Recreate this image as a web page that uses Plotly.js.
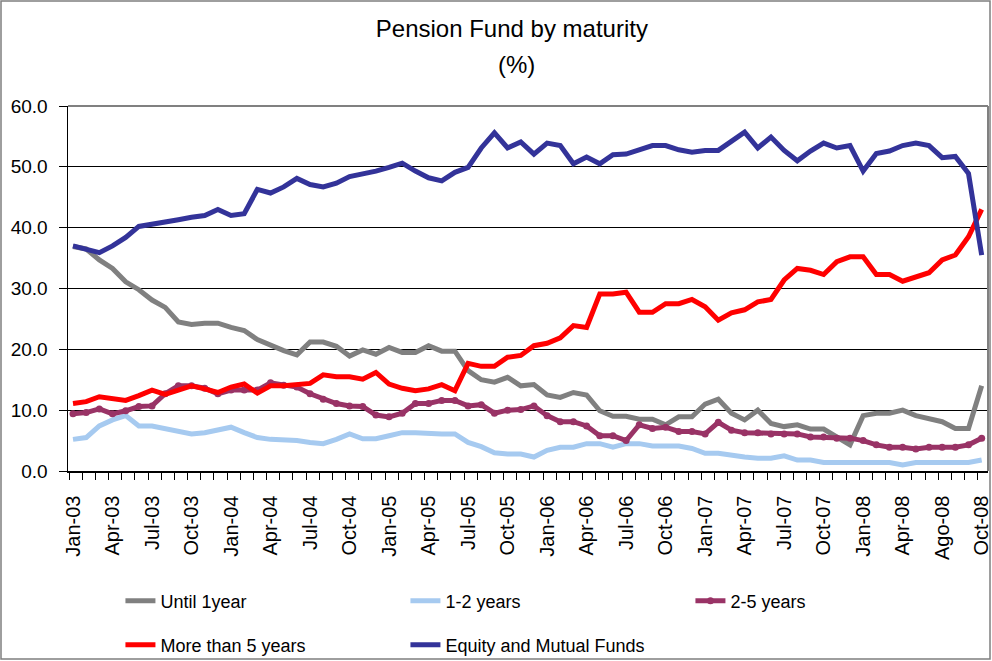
<!DOCTYPE html>
<html>
<head>
<meta charset="utf-8">
<script src="https://cdn.plot.ly/plotly-3.0.1.min.js"></script>
<style>
html, body { margin: 0; padding: 0; background: #ffffff; }
#chart { width: 992px; height: 661px; }
</style>
</head>
<body>
<div id="chart"></div>
<script>
// Tick labels (every third month, as printed on the original chart)
const tickLabels = ['Jan-03','Apr-03','Jul-03','Oct-03','Jan-04','Apr-04','Jul-04','Oct-04',
  'Jan-05','Apr-05','Jul-05','Oct-05','Jan-06','Apr-06','Jul-06','Oct-06',
  'Jan-07','Apr-07','Jul-07','Oct-07','Jan-08','Apr-08','Ago-08','Oct-08'];

// Monthly shares (%), Jan-03 .. Oct-08 (70 months)
const untilOneYear = [36.9,36.5,34.7,33.3,31.1,29.8,28.1,26.9,24.5,24.1,
  24.3,24.3,23.6,23.1,21.6,20.6,19.8,19.1,21.2,21.2,
  20.5,18.9,19.9,19.2,20.3,19.5,19.5,20.6,19.7,19.7,
  16.5,15.0,14.6,15.4,14.0,14.2,12.5,12.1,12.9,12.5,
  9.9,9.0,9.0,8.5,8.5,7.6,8.9,8.9,11.0,11.8,
  9.5,8.4,10.0,7.8,7.3,7.6,6.9,6.9,5.6,4.3,
  9.1,9.5,9.5,10.0,9.1,8.5,8.1,7.0,7.0,14.0];

const oneToTwo = [5.2,5.5,7.4,8.4,9.1,7.4,7.4,7.0,6.7,6.1,
  6.3,6.7,7.2,6.3,5.5,5.2,5.2,5.0,4.7,4.5,
  5.2,6.1,5.3,5.3,5.8,6.3,6.3,6.1,6.1,6.1,
  4.7,4.0,3.0,2.8,2.8,2.3,3.4,3.9,3.9,4.5,
  4.5,3.9,4.5,4.5,4.1,4.1,4.1,3.7,2.9,2.9,
  2.5,2.3,2.1,2.1,2.5,1.8,1.8,1.4,1.4,1.4,
  1.4,1.4,1.4,1.0,1.4,1.4,1.4,1.4,1.4,1.8];

const twoToFive = [9.4,9.6,10.2,9.4,9.9,10.6,10.7,12.7,14.0,14.0,
  13.6,12.7,13.3,13.3,13.3,14.5,14.1,13.8,12.7,11.8,
  11.1,10.7,10.6,9.2,8.9,9.5,11.1,11.1,11.6,11.6,
  10.7,10.9,9.5,10.0,10.1,10.7,9.1,8.1,8.1,7.4,
  5.8,5.8,5.0,7.6,7.0,7.2,6.5,6.5,6.1,8.0,
  6.7,6.3,6.3,6.1,6.1,6.1,5.6,5.6,5.4,5.4,
  5.0,4.3,3.9,3.9,3.6,3.9,3.9,3.9,4.3,5.4];

const moreThanFive = [11.1,11.4,12.2,11.9,11.6,12.4,13.3,12.6,13.2,14.0,
  13.5,12.9,13.8,14.3,12.8,14.0,14.0,14.2,14.4,15.8,
  15.5,15.5,15.1,16.2,14.3,13.6,13.2,13.5,14.2,13.2,
  17.7,17.2,17.2,18.7,19.0,20.6,21.0,21.9,23.9,23.6,
  29.1,29.1,29.4,26.1,26.1,27.5,27.5,28.2,27.0,24.8,
  26.0,26.5,27.8,28.2,31.4,33.3,33.0,32.3,34.4,35.2,
  35.2,32.3,32.3,31.2,31.8,32.6,34.7,35.5,38.5,43.0];

const equityFunds = [37.0,36.5,35.9,37.0,38.4,40.2,40.5,40.9,41.3,41.7,
  42.0,43.0,42.0,42.3,46.3,45.7,46.7,48.1,47.1,46.7,
  47.3,48.4,48.8,49.3,49.9,50.6,49.3,48.2,47.7,49.1,
  49.9,53.1,55.6,53.1,54.1,52.1,53.9,53.5,50.5,51.6,
  50.5,52.0,52.1,52.8,53.5,53.5,52.8,52.4,52.7,52.7,
  54.2,55.7,53.1,54.9,52.7,51.0,52.6,53.9,53.1,53.5,
  49.3,52.2,52.6,53.5,53.9,53.5,51.5,51.7,48.9,35.5];

const xIdx = untilOneYear.map((_, i) => i);
const tickPos = tickLabels.map((_, i) => i * 3);

const FONT = '"Liberation Sans", Arial, sans-serif';

function series(name, y, color, legend, withMarkers) {
  const t = {
    type: 'scatter', x: xIdx, y: y, name: name, legend: legend,
    mode: withMarkers ? 'lines+markers' : 'lines',
    line: { color: color, width: 5 },
    hoverinfo: 'skip'
  };
  if (withMarkers) t.marker = { color: color, size: 7, symbol: 'circle' };
  return t;
}

const data = [
  series('Until 1year', untilOneYear, '#808080', 'legend', false),
  series('1-2 years', oneToTwo, '#A6CAF0', 'legend', false),
  series('2-5 years', twoToFive, '#993366', 'legend', true),
  series('More than 5 years', moreThanFive, '#FF0000', 'legend2', false),
  series('Equity and Mutual Funds', equityFunds, '#333399', 'legend2', false)
];

const legendBase = {
  orientation: 'h', xref: 'paper', yref: 'paper', xanchor: 'left', yanchor: 'middle',
  x: 0.057, entrywidth: 240, entrywidthmode: 'pixels',
  font: { family: FONT, size: 18, color: '#000' },
  bgcolor: 'rgba(0,0,0,0)', borderwidth: 0, traceorder: 'normal'
};

const layout = {
  width: 992, height: 661,
  paper_bgcolor: '#ffffff', plot_bgcolor: '#ffffff',
  margin: { l: 68, r: 4, t: 106, b: 190, pad: 0, autoexpand: false },
  showlegend: true,
  title: {
    text: 'Pension Fund by maturity',
    xref: 'container', yref: 'container',
    x: 0.516, xanchor: 'center', y: 1 - 29 / 661, yanchor: 'middle',
    font: { family: FONT, size: 24, color: '#000' }
  },
  annotations: [{
    text: '(%)', xref: 'paper', yref: 'paper', x: 0.487, y: 1.115,
    xanchor: 'center', yanchor: 'middle', showarrow: false,
    font: { family: FONT, size: 24, color: '#000' }
  }],
  xaxis: {
    range: [-0.38, 69.48], fixedrange: true,
    tickmode: 'array', tickvals: tickPos, ticktext: tickLabels,
    tickangle: -90, ticks: '', ticklabelstandoff: 15, ticklabeloverflow: 'allow',
    tickfont: { family: FONT, size: 20, color: '#000' },
    showgrid: false, zeroline: false,
    showline: true, linecolor: '#000', linewidth: 1.5,
    minor: { tickmode: 'linear', tick0: -0.3, dtick: 1, ticks: 'outside', ticklen: 7, tickcolor: '#000', tickwidth: 1, showgrid: false }
  },
  yaxis: {
    range: [0, 60], fixedrange: true,
    tickmode: 'array', tickvals: [0, 10, 20, 30, 40, 50, 60],
    tickformat: '.1f', ticks: 'outside', ticklen: 8, tickcolor: '#000', tickwidth: 1,
    ticklabelstandoff: 7,
    tickfont: { family: FONT, size: 19, color: '#000' },
    showgrid: true, gridcolor: '#000', gridwidth: 1,
    zeroline: false, showline: true, linecolor: '#000', linewidth: 1.5
  },
  legend: Object.assign({}, legendBase, { y: (471 - 601) / 365 }),
  legend2: Object.assign({}, legendBase, { y: (471 - 645) / 365 }),
  shapes: [
    { type: 'line', xref: 'paper', yref: 'paper', x0: 0, x1: 1, y0: 1, y1: 1, layer: 'above',
      line: { color: '#808080', width: 2 } },
    { type: 'line', xref: 'paper', yref: 'paper', x0: 1, x1: 1, y0: 0, y1: 1, layer: 'above',
      line: { color: '#808080', width: 2 } },
    { type: 'rect', xref: 'paper', yref: 'paper',
      x0: (1 - 68) / 920, x1: (990 - 68) / 920, y0: (471 - 659) / 365, y1: (471 - 1) / 365,
      layer: 'below', line: { color: '#7f7f7f', width: 1.5 } }
  ]
};

Plotly.newPlot('chart', data, layout, { staticPlot: true, displayModeBar: false });
</script>
</body>
</html>
